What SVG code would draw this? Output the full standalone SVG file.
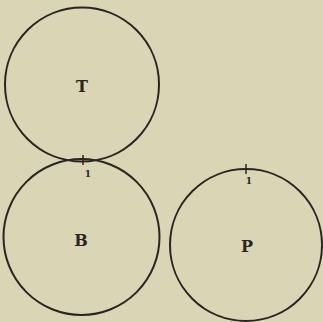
<svg xmlns="http://www.w3.org/2000/svg" width="323" height="322" viewBox="0 0 323 322">
<style>
.c{fill:none;stroke:#2b2522;stroke-width:2}
.t{stroke:#2b2522;stroke-width:1.5}
.l{font-family:"DejaVu Serif",serif;font-weight:bold;font-size:16px;fill:#2b2522;text-anchor:middle}
.n{font-family:"DejaVu Serif",serif;font-weight:bold;font-size:9px;fill:#2b2522;text-anchor:middle}
</style>
<rect width="323" height="322" fill="#d9d5b5"/>
<g id="T"><circle class="c" cx="82" cy="84.5" r="77"/><text class="l" x="82" y="92">T</text></g>
<g id="B"><circle class="c" cx="81.5" cy="237" r="78"/><text class="l" x="81" y="246">B</text></g>
<g id="P"><circle class="c" cx="246" cy="245" r="76"/><text class="l" x="247" y="252">P</text></g>
<g id="marks">
<line class="t" x1="83" y1="155" x2="83" y2="165"/><text class="n" x="88" y="177">1</text>
<line class="t" x1="246" y1="164" x2="246" y2="174"/><text class="n" x="249" y="184">1</text>
</g>
</svg>
